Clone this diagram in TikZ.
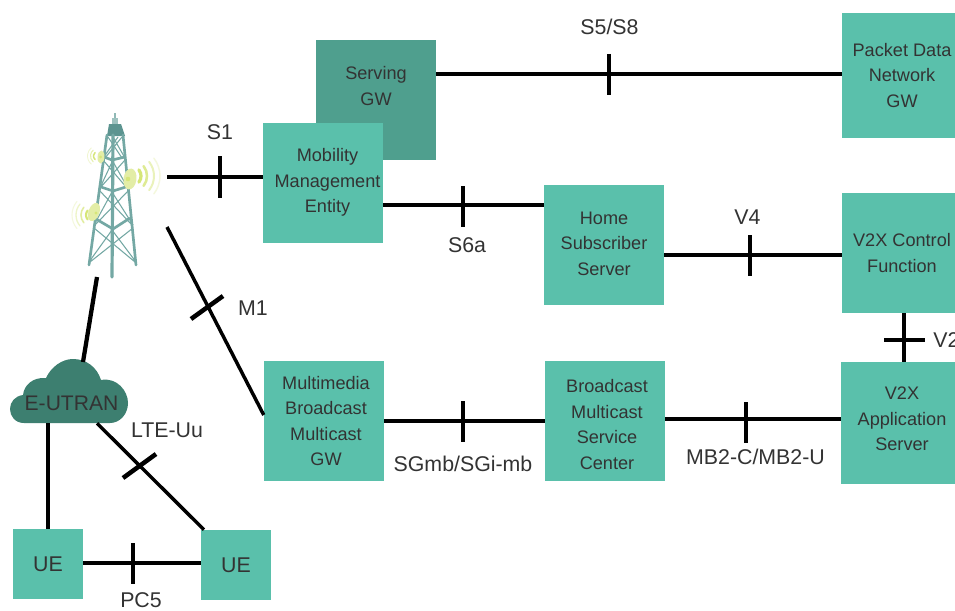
\documentclass[tikz,border=0pt]{standalone}
\usepackage{fontspec}
\setmainfont{Liberation Sans}
\definecolor{boxc}{HTML}{5AC0AB}
\definecolor{darkc}{HTML}{4F9F8E}
\definecolor{cloudc}{HTML}{3D7F70}
\definecolor{textc}{HTML}{333333}
\definecolor{towerc}{HTML}{74A8A4}
\definecolor{towertop}{HTML}{5C9490}
\definecolor{dishc}{HTML}{E3EDA6}
\definecolor{sigc}{HTML}{D6E678}
\newcommand{\pushup}[1]{\rule[-#1]{0pt}{#1}}
\newcommand{\pushdown}[1]{\rule{0pt}{#1}}
\newcommand{\rs}[1]{\hspace*{#1}}
\tikzset{
  sq/.style={fill=boxc,draw=none,inner sep=0pt,text=textc,align=center,font=\fontsize{13.6}{19.2}\selectfont,minimum width=90pt,minimum height=90pt},
  sqs/.style={sq,minimum width=52.5pt,minimum height=52.5pt,font=\fontsize{16}{19.2}\selectfont},
  lbl/.style={text=textc,inner sep=0pt,font=\fontsize{16}{19.2}\selectfont},
  link/.style={draw=black,line width=3.2pt},
  thin link/.style={draw=black,line width=2.6pt},
  tickm/.style={draw=black,line width=3.4pt},
  leg/.style={draw=towerc,line width=2pt,line cap=round},
  lace/.style={draw=towerc,line width=.8pt},
  brace/.style={draw=towerc,line width=2pt},
  sig/.style={draw=sigc,line cap=round}
}
\begin{document}
\begin{tikzpicture}[x=0.75pt,y=-0.75pt]
\clip (0,0) rectangle (955,610);
\fill[white] (0,0) rectangle (955,610);
% nodes
\node[sq,fill=darkc] (sgw) at (376,100) {Serving\\GW\pushup{21pt}};
\node[sq] (mme) at (323,183) {\rs{6.75pt}Mobility\\\rs{6.75pt}Management\\\rs{6.75pt}Entity\pushup{3.5pt}};
\node[sq,minimum height=93.75pt] (pdn) at (902,75.5) {Packet Data\\Network\\GW};
\node[sq] (hss) at (604,245) {Home\\Subscriber\\Server\pushup{2.25pt}};
\node[sq] (vcf) at (902,253) {V2X Control\\Function};
\node[sq,minimum height=91.5pt] (vas) at (901,423) {\rs{1.5pt}V2X\\\rs{1.5pt}Application\\\rs{1.5pt}Server\pushup{6pt}};
\node[sq] (bmsc) at (605,421) {\pushdown{15pt}\rs{3pt}Broadcast\\\rs{3pt}Multicast\\\rs{3pt}Service\\\rs{3pt}Center};
\node[sq] (mbms) at (324,421) {\rs{3pt}Multimedia\\\rs{3pt}Broadcast\\\rs{3pt}Multicast\\\rs{3pt}GW};
\node[sqs] (ue1) at (48,564) {UE};
\node[sqs] (ue2) at (236,565) {UE};
% tower
\coordinate (towerE) at (167,177);
\coordinate (towerS) at (167,227);
\coordinate (towerB) at (97,277);
\draw[towerc!80,line width=1.2pt] (115,113) -- (115,124);
\fill[towerc!70] (112,118) rectangle (118,124);
\fill[towertop] (109,124) -- (121,124) -- (125,136) -- (107,136) -- cycle;
\draw[lace] (108,137) -- (122,158) (122,137) -- (105,158) (113,137) -- (125,158) (118,137) -- (103,158);
\draw[lace] (103,160) -- (127,188) (125,160) -- (100,188) (112,160) -- (129,190) (113,160) -- (99,190);
\draw[lace] (99,190) -- (132,225) (129,190) -- (95,225) (112,192) -- (133,225) (112,192) -- (94,225);
\draw[lace] (94,228) -- (135,262) (133,228) -- (90,262) (112,230) -- (136,262) (112,230) -- (89,262);
\draw[brace] (104,157) -- (112,160) -- (125,157);
\draw[brace] (101,187) -- (113,191) -- (129,186);
\draw[brace] (96,219) -- (113,229) -- (130,218);
\draw[leg] (107,135) -- (89,265);
\draw[leg] (123,135) -- (136,265);
\draw[leg,line width=2.4pt] (113,135) -- (112,277);
% dishes
\fill[dishc,rotate around={-5:(101,157)}] (101,157) ellipse (3.5 and 6.5);
\fill[sigc] (100.5,157) circle (1.5);
\fill[dishc,rotate around={-8:(130,179)}] (130,179) ellipse (6.5 and 10.5);
\fill[sigc] (128,179) circle (2.3);
\fill[dishc,rotate around={-20:(94,212)}] (94,212) ellipse (5.5 and 9.5);
\fill[sigc] (96,213) circle (1.6);
% signal arcs
\foreach \r/\w/\o in {4.5/1.1/1,7.5/.8/.6,10.5/.6/.35}{
  \draw[sig,line width=\w pt,opacity=\o] (98,156) ++(130:\r) arc[start angle=130,end angle=230,radius=\r];
}
\foreach \r/\w/\o in {10/2.4/1,16/1.9/.8,23/1.5/.5,29/1.1/.25}{
  \draw[sig,line width=\w pt,opacity=\o] (131,176) ++(-38:\r) arc[start angle=-38,end angle=38,radius=\r];
}
\foreach \r/\w/\o in {7/1.6/1,12/1.2/.7,17/1/.4,21/.8/.25}{
  \draw[sig,line width=\w pt,opacity=\o] (93,215) ++(140:\r) arc[start angle=140,end angle=220,radius=\r];
}
% cloud
\node[inner sep=0pt,minimum width=88.5pt,minimum height=48pt] (cloud) at (69,391) {};
\fill[cloudc] (24,423) .. controls (15,423) and (10,416) .. (10,409)
  .. controls (10,402) and (15,396) .. (23,395)
  .. controls (24,385) and (33,377) .. (46,378)
  .. controls (51,367) and (62,359) .. (73,359)
  .. controls (86,359) and (97,367) .. (101,380)
  .. controls (117,377) and (128,391) .. (128,403)
  .. controls (128,414) and (120,423) .. (110,423) -- cycle;
\node[lbl,font=\fontsize{15.8}{19.2}\selectfont] at (71.5,403) {E-UTRAN};
% connectors
\draw[link] (sgw.east |- 0,74) -- (pdn.west |- 0,74);
\draw[link] (towerE) -- (mme.west |- towerE);
\draw[link] (mme.east |- 0,205) -- (hss.west |- 0,205);
\draw[link] (hss.east |- 0,255) -- (vcf.west |- 0,255);
\draw[link] (vcf.south -| 904,0) -- (vas.north -| 904,0);
\draw[link] (mbms.east |- 0,421) -- (bmsc.west |- 0,421);
\draw[link] (bmsc.east |- 0,419) -- (vas.west |- 0,419);
\draw[thin link] (towerS) -- (mbms.west |- 0,415);
\draw[link] (towerB) -- (83,362);
\draw[link] (cloud.south -| 48,0) -- (ue1.north -| 48,0);
\draw[thin link] (cloud.south -| 97,0) -- (ue2.north -| 204,0);
\draw[link] (ue1.east |- 0,563) -- (ue2.west |- 0,563);
% ticks
\draw[tickm] (609,54) -- (609,95);
\draw[tickm] (220,156) -- (220,198);
\draw[tickm] (463,186) -- (463,227);
\draw[tickm] (750,235) -- (750,276);
\draw[tickm] (884,340) -- (925,340);
\draw[tickm] (463,401) -- (463,442);
\draw[tickm] (746,402) -- (746,443);
\draw[tickm] (191,319) -- (223,296);
\draw[tickm] (123,478) -- (156,454);
\draw[tickm] (133,543) -- (133,584);
% labels
\node[lbl] (l1) at (609.5,27) {S5/S8};
\node[lbl] (l2) at (220,132) {S1};
\node[lbl] (l3) at (467,245) {S6a};
\node[lbl] (l4) at (747.5,217) {V4};
\node[lbl,anchor=west] (l5) at (933,340) {V2};
\node[lbl] (l6) at (253,308) {M1};
\node[lbl] (l7) at (167,430) {LTE-Uu};
\node[lbl] (l8) at (463,464) {SGmb/SGi-mb};
\node[lbl] (l9) at (755.5,457) {MB2-C/MB2-U};
\node[lbl] (l10) at (141,600) {PC5};
\end{tikzpicture}
\end{document}
